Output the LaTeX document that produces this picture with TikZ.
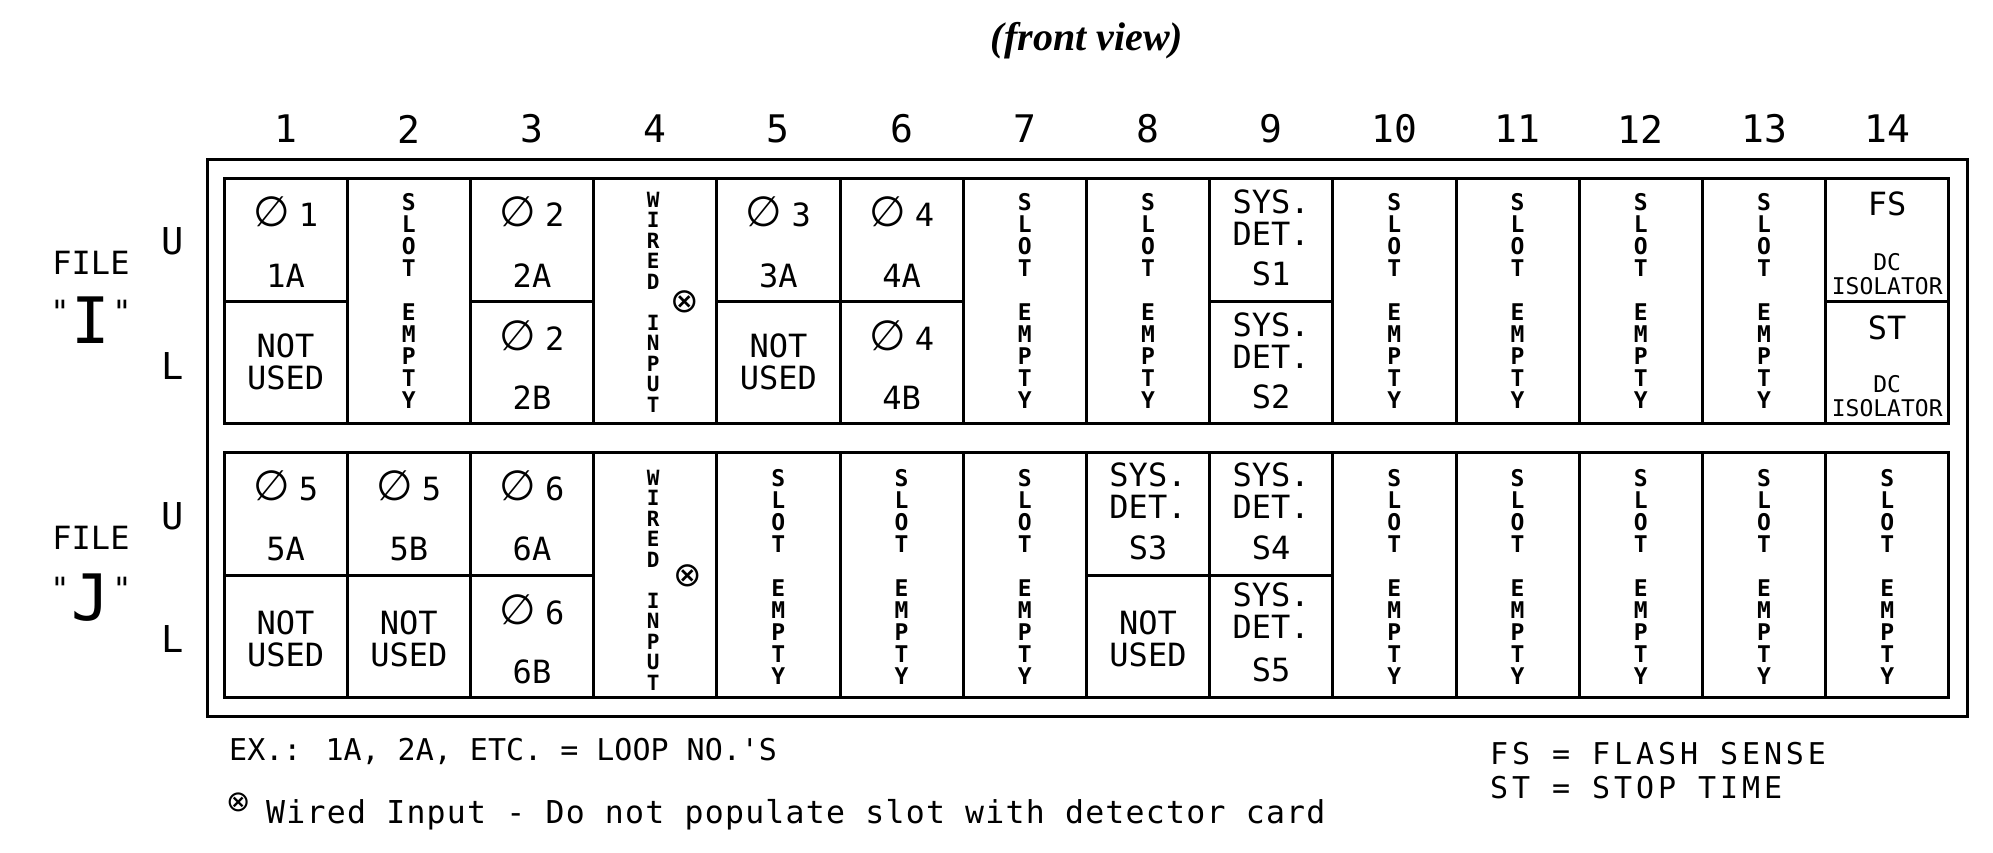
\documentclass[tikz,border=0pt]{standalone}
\usepackage{fontspec}
\newfontfamily\cad{DejaVu Sans Mono}
\newfontfamily\cadnote{DejaVu Sans Mono}[LetterSpace=4]
\newfontfamily\cadwide{DejaVu Sans Mono}[LetterSpace=13]
\newfontfamily\dvsans{DejaVu Sans}
\newfontfamily\viewfont{Liberation Serif}
\usetikzlibrary{positioning}

\newcommand{\phase}[1]{{\dvsans\fontsize{42}{32}\selectfont ∅}\hspace{9pt}#1}
\newcommand{\slotempty}{S\\L\\O\\T\\[22pt]E\\M\\P\\T\\Y}
\newcommand{\wiredinput}{W\\I\\R\\E\\D\\[20.5pt]I\\N\\P\\U\\T}

\tikzset{
  wall/.style = {line width=3pt},
  num/.style = {font=\cad\fontsize{38}{38}\selectfont, inner sep=0pt},
  big/.style = {font=\cad\fontsize{32}{32}\selectfont, inner sep=0pt, align=center},
  small/.style = {font=\cad\fontsize{23}{24}\selectfont, inner sep=0pt, align=center},
  slot/.style = {font=\cad\bfseries\fontsize{23}{22}\selectfont, inner sep=0pt, align=center},
  wired/.style = {font=\cad\bfseries\fontsize{21}{20.5}\selectfont, inner sep=0pt, align=center},
  circx/.style = {font=\dvsans\fontsize{34}{34}\selectfont, inner sep=0pt},
  side/.style = {font=\cad\fontsize{37}{37}\selectfont, inner sep=0pt},
  file/.style = {font=\cad\fontsize{32}{32}\selectfont, inner sep=0pt},
  note/.style = {font=\cad\fontsize{30}{30}\selectfont, inner sep=0pt, anchor=base west}
}

\begin{document}
\begin{tikzpicture} [x=1pt, y=-1pt, node distance = 123.2pt, on grid]

\useasboundingbox (0,0) rectangle (1993,853);

\node (title) at (1087,41) [font=\viewfont\bfseries\itshape\fontsize{40}{40}\selectfont] {(front view)};

% slot numbers
\node (n1) [num] at (285.6,129) {1};
\node (n2) [num, right = of n1] {2};
\node (n3) [num, right = of n2] {3};
\node (n4) [num, right = of n3] {4};
\node (n5) [num, right = of n4] {5};
\node (n6) [num, right = of n5] {6};
\node (n7) [num, right = of n6] {7};
\node (n8) [num, right = of n7] {8};
\node (n9) [num, right = of n8] {9};
\node (n10) [num, right = of n9] {10};
\node (n11) [num, right = of n10] {11};
\node (n12) [num, right = of n11] {12};
\node (n13) [num, right = of n12] {13};
\node (n14) [num, right = of n13] {14};

% rack
\draw [wall] (207,160) rectangle (1967,716);

% file I
\draw [wall] (224,179) rectangle (1948.8,423);
\draw [wall] (347.2,179) -- ++(0,244) (470.4,179) -- ++(0,244) (593.6,179) -- ++(0,244)
  (716.8,179) -- ++(0,244) (840,179) -- ++(0,244) (963.2,179) -- ++(0,244)
  (1086.4,179) -- ++(0,244) (1209.6,179) -- ++(0,244) (1332.8,179) -- ++(0,244)
  (1456,179) -- ++(0,244) (1579.2,179) -- ++(0,244) (1702.4,179) -- ++(0,244)
  (1825.6,179) -- ++(0,244);
\draw [wall] (224,301) -- (347.2,301) (470.4,301) -- (593.6,301) (716.8,301) -- (963.2,301)
  (1209.6,301) -- (1332.8,301) (1825.6,301) -- (1948.8,301);

% file J
\draw [wall] (224,452) rectangle (1948.8,697);
\draw [wall] (347.2,452) -- ++(0,245) (470.4,452) -- ++(0,245) (593.6,452) -- ++(0,245)
  (716.8,452) -- ++(0,245) (840,452) -- ++(0,245) (963.2,452) -- ++(0,245)
  (1086.4,452) -- ++(0,245) (1209.6,452) -- ++(0,245) (1332.8,452) -- ++(0,245)
  (1456,452) -- ++(0,245) (1579.2,452) -- ++(0,245) (1702.4,452) -- ++(0,245)
  (1825.6,452) -- ++(0,245);
\draw [wall] (224,575) -- (593.6,575) (1086.4,575) -- (1332.8,575);

% left labels
\node (fileI) [file] at (91,263) {FILE};
\node (nameI) [file] at (91,320) {\raisebox{20pt}{"}\hspace{2pt}{\fontsize{64}{64}\selectfont I}\hspace{2pt}\raisebox{20pt}{"}};
\node (uI) [side] at (173,241) {U};
\node (lI) [side, below = 125pt of uI] {L};
\node (fileJ) [file] at (91,538) {FILE};
\node (nameJ) [file] at (91,598) {\raisebox{20pt}{"}\hspace{2pt}{\fontsize{64}{64}\selectfont J}\hspace{2pt}\raisebox{20pt}{"}};
\node (uJ) [side] at (173,516) {U};
\node (lJ) [side, below = 123pt of uJ] {L};

% file I cards
\node (i1a) [big, below = 83pt of n1] {\phase 1};
\node (i1b) [big, below = 64pt of i1a] {1A};
\node (i1c) [big, below = 86pt of i1b] {NOT\\USED};
\node (i2) [slot, below = 172pt of n2] {\slotempty};
\node (i3a) [big, below = 83pt of n3] {\phase 2};
\node (i3b) [big, below = 64pt of i3a] {2A};
\node (i3c) [big, below = 60pt of i3b] {\phase 2};
\node (i3d) [big, below = 62pt of i3c] {2B};
\node (i4) [wired, below = 173pt of n4, xshift=-2pt] {\wiredinput};
\node (i4x) [circx, right = 32pt of i4] {⊗};
\node (i5a) [big, below = 83pt of n5] {\phase 3};
\node (i5b) [big, below = 64pt of i5a] {3A};
\node (i5c) [big, below = 86pt of i5b] {NOT\\USED};
\node (i6a) [big, below = 83pt of n6] {\phase 4};
\node (i6b) [big, below = 64pt of i6a] {4A};
\node (i6c) [big, below = 60pt of i6b] {\phase 4};
\node (i6d) [big, below = 62pt of i6c] {4B};
\node (i7) [slot, below = 172pt of n7] {\slotempty};
\node (i8) [slot, below = 172pt of n8] {\slotempty};
\node (i9a) [big, below = 89pt of n9] {SYS.\\DET.};
\node (i9b) [big, below = 56pt of i9a] {S1};
\node (i9c) [big, below = 67pt of i9b] {SYS.\\DET.};
\node (i9d) [big, below = 56pt of i9c] {S2};
\node (i10) [slot, below = 172pt of n10] {\slotempty};
\node (i11) [slot, below = 172pt of n11] {\slotempty};
\node (i12) [slot, below = 172pt of n12] {\slotempty};
\node (i13) [slot, below = 172pt of n13] {\slotempty};
\node (i14a) [big, below = 75pt of n14] {FS};
\node (i14b) [small, below = 70pt of i14a] {DC\\ISOLATOR};
\node (i14c) [big, below = 54pt of i14b] {ST};
\node (i14d) [small, below = 68pt of i14c] {DC\\ISOLATOR};

% file J cards
\node (j1a) [big, below = 357pt of n1] {\phase 5};
\node (j1b) [big, below = 63pt of j1a] {5A};
\node (j1c) [big, below = 90pt of j1b] {NOT\\USED};
\node (j2a) [big, below = 357pt of n2] {\phase 5};
\node (j2b) [big, below = 63pt of j2a] {5B};
\node (j2c) [big, below = 90pt of j2b] {NOT\\USED};
\node (j3a) [big, below = 357pt of n3] {\phase 6};
\node (j3b) [big, below = 63pt of j3a] {6A};
\node (j3c) [big, below = 61pt of j3b] {\phase 6};
\node (j3d) [big, below = 62pt of j3c] {6B};
\node (j4) [wired, below = 451pt of n4, xshift=-2pt] {\wiredinput};
\node (j4x) [circx, right = 35pt of j4, yshift=4pt] {⊗};
\node (j5) [slot, below = 448pt of n5] {\slotempty};
\node (j6) [slot, below = 448pt of n6] {\slotempty};
\node (j7) [slot, below = 448pt of n7] {\slotempty};
\node (j8a) [big, below = 362pt of n8] {SYS.\\DET.};
\node (j8b) [big, below = 57pt of j8a] {S3};
\node (j8c) [big, below = 91pt of j8b] {NOT\\USED};
\node (j9a) [big, below = 362pt of n9] {SYS.\\DET.};
\node (j9b) [big, below = 57pt of j9a] {S4};
\node (j9c) [big, below = 63pt of j9b] {SYS.\\DET.};
\node (j9d) [big, below = 59pt of j9c] {S5};
\node (j10) [slot, below = 448pt of n10] {\slotempty};
\node (j11) [slot, below = 448pt of n11] {\slotempty};
\node (j12) [slot, below = 448pt of n12] {\slotempty};
\node (j13) [slot, below = 448pt of n13] {\slotempty};
\node (j14) [slot, below = 448pt of n14] {\slotempty};

% notes
\node (ex) [note] at (229,760) {EX.: 1A, 2A, ETC. = LOOP NO.'S};
\node (wx) [circx, font=\dvsans\fontsize{29}{29}\selectfont] at (239,802) {⊗};
\node (wi) [note, font=\cadnote\fontsize{31.5}{31.5}\selectfont] at (266,823) {Wired Input - Do not populate slot with detector card};
\node (fs) [note, font=\cadwide\fontsize{30}{30}\selectfont] at (1490,764) {FS = FLASH SENSE};
\node (st) [note, font=\cadwide\fontsize{30}{30}\selectfont] at (1490,798) {ST = STOP TIME};
\end{tikzpicture}
\end{document}
